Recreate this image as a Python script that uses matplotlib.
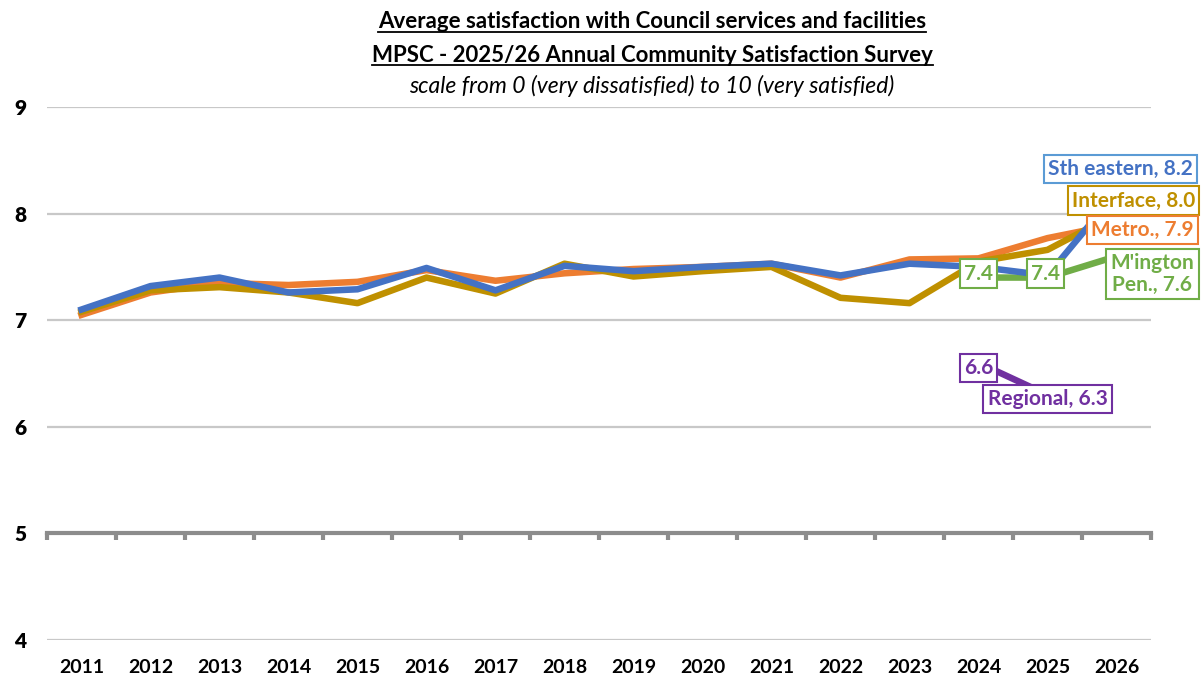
import numpy as np
import matplotlib.pyplot as plt
from matplotlib.lines import Line2D

plt.rcParams['font.family'] = ['Lato', 'DejaVu Sans']
plt.rcParams['font.weight'] = 'bold'

years = [str(y) for y in range(2011, 2027)]
sth_eastern = [7.10, 7.32, 7.40, 7.26, 7.29, 7.49, 7.28, 7.51, 7.46, 7.50, 7.53, 7.42, 7.53, 7.50, 7.42, 8.2]
metro = [7.05, 7.26, 7.35, 7.33, 7.36, 7.47, 7.37, 7.44, 7.48, 7.50, 7.53, 7.40, 7.57, 7.58, 7.77, 7.9]
interface = [7.08, 7.28, 7.31, 7.26, 7.16, 7.40, 7.25, 7.53, 7.41, 7.46, 7.50, 7.21, 7.16, 7.55, 7.66, 8.0]
mington = [np.nan] * 13 + [7.4, 7.4, 7.6]
regional = [np.nan] * 13 + [6.6, 6.3, np.nan]
yticks = [4, 5, 6, 7, 8, 9]

c_blue = '#4472C4'
c_orange = '#ED7D31'
c_gold = '#BF9000'
c_green = '#70AD47'
c_purple = '#7030A0'

fig = plt.figure(figsize=(12.02, 6.76), dpi=100)
ax = fig.add_axes([47 / 1202, 1 - 640 / 676, 1104 / 1202, 533 / 676])

x = np.arange(len(years))
ax.plot(x, metro, color=c_orange, lw=4.7, zorder=3)
ax.plot(x, interface, color=c_gold, lw=4.7, zorder=4)
ax.plot(x, sth_eastern, color=c_blue, lw=4.7, zorder=5)
ax.plot(x, mington, color=c_green, lw=4.7, zorder=4)
ax.plot(x, regional, color=c_purple, lw=4.7, zorder=4)

ax.set_xlim(-0.5, len(years) - 0.5)
ax.set_ylim(4, 9)
ax.grid(axis='y', color='#C8C8C8', lw=1.6)
ax.set_axisbelow(True)
for s in ax.spines.values():
    s.set_visible(False)

# horizontal axis crosses at 5, tick marks between categories
ax.spines['bottom'].set_visible(True)
ax.spines['bottom'].set_position(('data', 5))
ax.spines['bottom'].set_color('#8C8C8C')
ax.spines['bottom'].set_linewidth(3)
ax.spines['bottom'].set_zorder(6)
ax.set_xticks(x)
ax.set_xticklabels([])
ax.tick_params(axis='x', which='major', length=0)
ax.set_xticks(np.arange(-0.5, len(years), 1), minor=True)
ax.tick_params(axis='x', which='minor', length=5, width=3, color='#8C8C8C', direction='out')

ax.set_yticks(yticks)
ax.tick_params(axis='y', length=0, pad=15, labelsize=15)

# category labels at the bottom of the plot area
lab_ax = ax.secondary_xaxis(0)
lab_ax.set_xticks(x)
lab_ax.set_xticklabels(years, fontsize=14, fontweight='bold')
lab_ax.tick_params(length=0, pad=14)
lab_ax.spines['bottom'].set_visible(False)

def label(xi, yi, txt, col, dx, dy, ec=None):
    ax.annotate(txt, (xi, yi), xytext=(dx, dy), textcoords='offset pixels',
                ha='center', va='center', fontsize=15, fontweight='bold', color=col,
                linespacing=1.1, annotation_clip=False, zorder=10,
                bbox=dict(boxstyle='square,pad=0.2', fc='white', ec=ec or col, lw=1.5))

label(15, sth_eastern[15], 'Sth eastern, 8.2', c_blue, 4, 23, ec='#5B9BD5')
label(15, interface[15], 'Interface, 8.0', c_gold, 17, 13)
label(15, metro[15], 'Metro., 7.9', c_orange, 26, -6)
label(15, mington[15], "M'ington\nPen., 7.6", c_green, 36, -18)
label(13, mington[13], '7.4', c_green, 0, 4)
label(14, mington[14], '7.4', c_green, -2, 4)
label(13, regional[13], '6.6', c_purple, 0, -5)
label(14, regional[14], 'Regional, 6.3', c_purple, 0, -4)

t1 = fig.text(0.5425, 1 - 22 / 676, 'Average satisfaction with Council services and facilities',
              ha='center', va='center', fontsize=16, fontweight='bold')
t2 = fig.text(0.5425, 1 - 55 / 676, 'MPSC - 2025/26 Annual Community Satisfaction Survey',
              ha='center', va='center', fontsize=16, fontweight='bold')
fig.text(0.5425, 1 - 86 / 676, 'scale from 0 (very dissatisfied) to 10 (very satisfied)',
         ha='center', va='center', fontsize=16.5, style='italic', fontweight='normal')

# underline the two title lines
fig.canvas.draw()
r = fig.canvas.get_renderer()
for t in (t1, t2):
    bb = t.get_window_extent(r)
    y = (bb.y0 + 1) / fig.bbox.height
    fig.add_artist(Line2D([bb.x0 / fig.bbox.width, bb.x1 / fig.bbox.width], [y, y],
                          color='black', lw=1.3))

for lab in ax.get_yticklabels():
    lab.set_fontweight('heavy')

plt.savefig('out.png', dpi=100)
